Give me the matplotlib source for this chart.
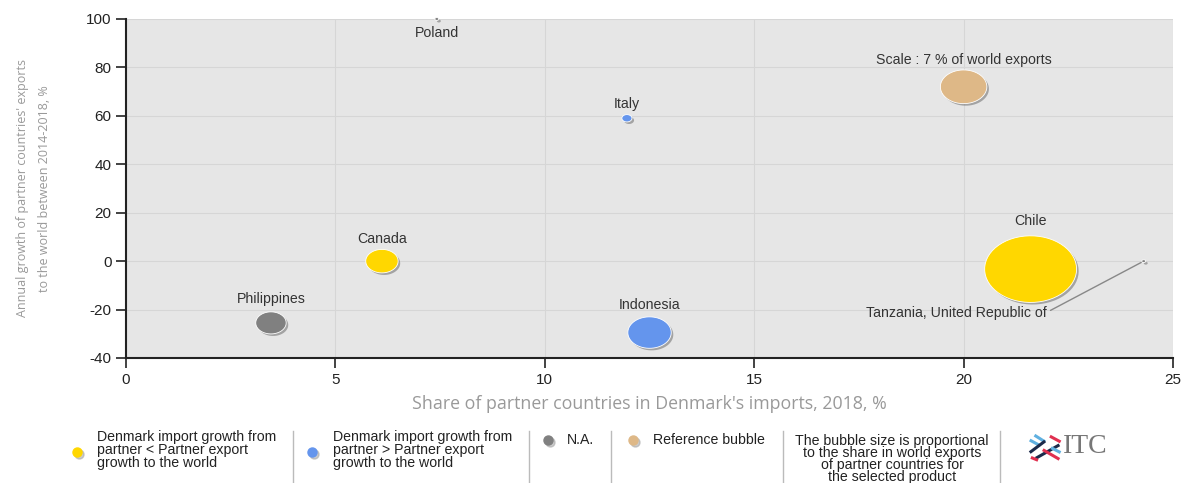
import matplotlib
matplotlib.use("Agg")
import matplotlib.pyplot as plt
import matplotlib.patheffects as pe
from matplotlib.path import Path
from matplotlib.lines import Line2D
import numpy as np

plt.rcParams['font.family'] = ['Liberation Sans', 'DejaVu Sans']
plt.rcParams['axes.unicode_minus'] = False

# data
countries = ['Poland', 'Italy', 'Canada', 'Philippines', 'Indonesia', 'Chile',
             'Tanzania, United Republic of']
share_imports = [7.42, 11.96, 6.11, 3.46, 12.5, 21.6, 24.3]
growth = [100, 59, 0, -25.5, -29.5, -3.3, 0]
world_share = [0.05, 0.33, 3.4, 3.0, 6.1, 27.4, 0.05]
group = ['na', 'above', 'below', 'na', 'above', 'below', 'na']

ref_x, ref_y, ref_share = [20.0], [72.0], [7.0]

colors = {'below': '#FFD700', 'above': '#6495ED', 'na': '#808080', 'ref': '#DEB887'}

# bubbles are stretched horizontally in the original picture
t = np.linspace(0, 2 * np.pi, 60)
ellipse = Path(np.column_stack([1.38 * np.cos(t), np.sin(t)]), closed=True)

fig = plt.figure(figsize=(11.87, 4.83), dpi=100)
ax = fig.add_axes([0.1062, 0.2588, 0.882, 0.7019])
ax.set_facecolor('#e6e6e6')

k = 160.0  # marker area (pt^2) per % of world exports
shadow = [pe.SimplePatchShadow(offset=(1.5, -1.5), shadow_rgbFace='#777777', alpha=0.6), pe.Normal()]

for i, c in enumerate(countries):
    ax.scatter(share_imports[i], growth[i], s=world_share[i] * k, marker=ellipse,
               color=colors[group[i]], edgecolors='white', linewidths=0.6,
               path_effects=shadow, zorder=3, clip_on=False)
ax.scatter(ref_x, ref_y, s=np.array(ref_share) * k, marker=ellipse, color=colors['ref'],
           edgecolors='white', linewidths=0.6, path_effects=shadow, zorder=3)

fs = 10.2
lab_kw = dict(fontsize=fs, color='#333333', ha='center', zorder=4)
ax.annotate('Poland', (7.42, 100), xytext=(0, -10), textcoords='offset points', va='center', **lab_kw)
ax.annotate('Italy', (11.96, 59), xytext=(0, 10), textcoords='offset points', va='center', **lab_kw)
ax.annotate('Canada', (6.11, 0), xytext=(0, 16), textcoords='offset points', va='center', **lab_kw)
ax.annotate('Philippines', (3.46, -25.5), xytext=(0, 17), textcoords='offset points', va='center', **lab_kw)
ax.annotate('Indonesia', (12.5, -29.5), xytext=(0, 20), textcoords='offset points', va='center', **lab_kw)
ax.annotate('Chile', (21.6, -3.3), xytext=(0, 35), textcoords='offset points', va='center', **lab_kw)
ax.annotate('Scale : 7 % of world exports', (20.0, 72.0), xytext=(0, 19),
            textcoords='offset points', va='center', **lab_kw)
ax.annotate('Tanzania, United Republic of', (24.3, 0), xytext=(-70, -37),
            textcoords='offset points', va='center', ha='right', fontsize=fs,
            color='#333333', zorder=4,
            arrowprops=dict(arrowstyle='-', color='#888888', lw=1, shrinkA=1, shrinkB=2,
                            relpos=(1.0, 0.5)))

ax.set_xlim(0, 25)
ax.set_ylim(-40, 100)
ax.set_xticks([0, 5, 10, 15, 20, 25])
ax.set_yticks([-40, -20, 0, 20, 40, 60, 80, 100])
ax.grid(True, color='#d6d6d6', lw=0.8)
ax.set_axisbelow(True)
for s in ['top', 'right']:
    ax.spines[s].set_visible(False)
for s in ['left', 'bottom']:
    ax.spines[s].set_color('#222222')
    ax.spines[s].set_linewidth(1.5)
ax.tick_params(axis='both', labelsize=11, colors='#222222', length=7, width=1.2)

ax.set_xlabel("Share of partner countries in Denmark's imports, 2018, %", fontsize=12.8,
              color='#999999', family='Open Sans', labelpad=6)
ax.set_ylabel("Annual growth of partner countries' exports\nto the world between 2014-2018, %",
              fontsize=9, color='#999999', family='Open Sans', labelpad=25, linespacing=1.9)

# legend strip at the bottom
def dot(x, y, col):
    fig.add_artist(Line2D([x + 0.0015], [y - 0.004], marker='o', markersize=6.5, color='#aaaaaa',
                          alpha=0.6, transform=fig.transFigure))
    fig.add_artist(Line2D([x], [y], marker='o', markersize=6.5, color=col,
                          transform=fig.transFigure))

lfs = 10.2
leg_kw = dict(fontsize=lfs, color='#222222', va='center', linespacing=0.88)
dot(0.0648, 0.064, colors['below'])
fig.text(0.0818, 0.068, 'Denmark import growth from\npartner < Partner export\ngrowth to the world', **leg_kw)
dot(0.2628, 0.064, colors['above'])
fig.text(0.2805, 0.068, 'Denmark import growth from\npartner > Partner export\ngrowth to the world', **leg_kw)
dot(0.4617, 0.089, colors['na'])
fig.text(0.4777, 0.089, 'N.A.', **leg_kw)
dot(0.5333, 0.089, colors['ref'])
fig.text(0.5500, 0.089, 'Reference bubble', **leg_kw)
fig.text(0.7515, 0.050, 'The bubble size is proportional\nto the share in world exports\nof partner countries for\nthe selected product',
         ha='center', fontsize=lfs, color='#222222', va='center', linespacing=0.8)
for sx in [0.2468, 0.4457, 0.5147, 0.6596, 0.8425]:
    fig.add_artist(Line2D([sx, sx], [0.0, 0.108], color='#bbbbbb', lw=1, transform=fig.transFigure))

# ITC logo (rough drawing of the mark)
lx, ly = 0.8805, 0.073
segs = [((-0.013, 0.016), (-0.004, 0.004), '#5fb0e0'),
        ((-0.009, 0.026), (0.000, 0.012), '#5fb0e0'),
        ((0.004, 0.024), (0.013, 0.012), '#e03050'),
        ((0.012, 0.006), (-0.008, -0.022), '#1b2a4a'),
        ((0.000, 0.014), (-0.013, -0.010), '#1b2a4a'),
        ((-0.002, -0.004), (0.012, -0.024), '#e03050'),
        ((-0.012, -0.020), (-0.006, -0.026), '#e03050'),
        ((0.005, 0.000), (0.013, -0.010), '#5fb0e0')]
for (x0, y0), (x1, y1), col in segs:
    fig.add_artist(Line2D([lx + x0, lx + x1], [ly + y0, ly + y1], color=col, lw=2.2,
                          solid_capstyle='butt', transform=fig.transFigure))
fig.text(0.8955, 0.075, 'ITC', family='Liberation Serif', fontsize=20, color='#777777', va='center')

fig.savefig('out.png', dpi=100)
